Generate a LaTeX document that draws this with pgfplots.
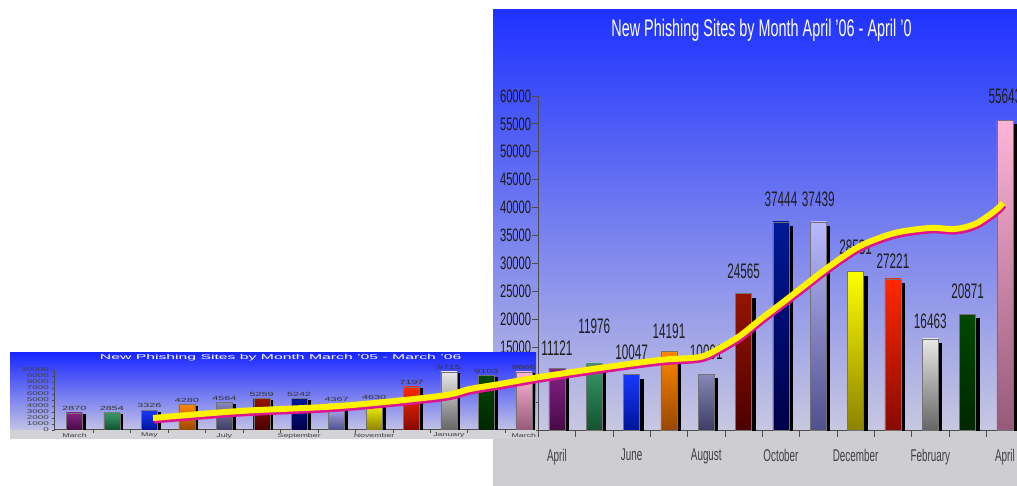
\documentclass[border=0pt]{standalone}
\usepackage{pgfplots}
\usepackage{pgfplotstable}
\pgfplotsset{compat=1.18}
\usepackage{fontspec}
\setmainfont{Liberation Sans}
\usepackage{graphicx}
\pgfkeys{/pgf/number format/.cd, assume math mode=true}

\definecolor{bgtop}{RGB}{30,50,255}
\definecolor{bgmid}{RGB}{128,134,240}
\definecolor{bgbot}{RGB}{200,200,224}
\definecolor{bgfloor}{RGB}{205,205,210}
\definecolor{sbgtop}{RGB}{26,40,255}
\definecolor{sbgmid}{RGB}{112,118,240}
\definecolor{sbgbot}{RGB}{195,195,228}
\definecolor{sbgfloor}{RGB}{210,210,215}
\definecolor{curvemag}{RGB}{222,20,145}

\definecolor{cAt}{RGB}{135,35,135}\definecolor{cAb}{RGB}{70,10,70}
\definecolor{cBt}{RGB}{55,155,105}\definecolor{cBb}{RGB}{20,80,50}
\definecolor{cCt}{RGB}{25,55,255}\definecolor{cCb}{RGB}{0,20,150}
\definecolor{cDt}{RGB}{255,135,0}\definecolor{cDb}{RGB}{150,70,0}
\definecolor{cEt}{RGB}{135,135,185}\definecolor{cEb}{RGB}{60,60,100}
\definecolor{cFt}{RGB}{150,20,0}\definecolor{cFb}{RGB}{75,0,0}
\definecolor{cGt}{RGB}{0,25,150}\definecolor{cGb}{RGB}{0,0,70}
\definecolor{cHt}{RGB}{185,185,255}\definecolor{cHb}{RGB}{80,80,140}
\definecolor{cIt}{RGB}{255,255,0}\definecolor{cIb}{RGB}{140,130,0}
\definecolor{cJt}{RGB}{255,40,0}\definecolor{cJb}{RGB}{135,10,0}
\definecolor{cKt}{RGB}{232,232,232}\definecolor{cKb}{RGB}{100,100,100}
\definecolor{cLt}{RGB}{0,72,0}\definecolor{cLb}{RGB}{0,38,0}
\definecolor{cMt}{RGB}{255,180,215}\definecolor{cMb}{RGB}{150,90,120}

% April '06 - April '07 (x = month index, v = new phishing sites, gap = label offset in pt)
\pgfplotstableread{
x v gap
0 11121 13
1 11976 30
2 10047 15
3 14191 13
4 10091 14
5 24565 15
6 37444 15
7 37439 15
8 28531 17
9 27221 10
10 16463 10
11 20871 15
12 55643 16
}\bigdata
% March '05 - March '06
\pgfplotstableread{
x v
0 2870
1 2854
2 3326
3 4280
4 4564
5 5259
6 5242
7 4367
8 4630
9 7197
10 9715
11 9103
12 9666
}\smalldata
% trend curve, in the big chart's coordinates
\pgfplotstableread{
x y
-10.82 2277
-8.49 3532
-5.81 4428
-3.13 6221
-2.33 7476
-1.53 8372
-0.46 9627
1.15 11241
2.76 12675
3.83 13213
4.37 14850
4.90 17000
5.44 19900
5.97 22600
6.51 25400
7.31 29527
8.12 33112
9.05 35443
9.99 36339
10.66 36160
11.20 37056
11.73 39387
11.95 40821
}\curvedata

% bar i of a table: index, table, top colour, bottom colour
\newcommand{\BigBar}[3]{%
  \addplot[ybar, bar width=16pt, bar shift=4pt, fill=black, draw=none, yshift=-4pt,
    restrict expr to domain={\coordindex}{#1:#1}] table[x=x,y=v] {\bigdata};
  \addplot[ybar, bar width=16pt, bar shift=0pt, draw=black!55, line width=0.5pt, top color=#2, bottom color=#3,
    restrict expr to domain={\coordindex}{#1:#1}] table[x=x,y=v] {\bigdata};
}
\newcommand{\SmallBar}[3]{%
  \addplot[ybar, bar width=16pt, bar shift=3.5pt, fill=black, draw=none, yshift=-1.5pt,
    restrict expr to domain={\coordindex}{#1:#1}] table[x=x,y=v] {\smalldata};
  \addplot[ybar, bar width=16pt, bar shift=0pt, draw=black!55, line width=0.4pt, top color=#2, bottom color=#3,
    restrict expr to domain={\coordindex}{#1:#1}] table[x=x,y=v] {\smalldata};
}
\newcommand{\bx}[1]{\scalebox{0.58}[1]{#1}}
\newcommand{\sx}[1]{\scalebox{1.6}[1]{#1}}

\pgfplotsset{
  bigaxis/.style={at={(538.3pt,55.3pt)}, anchor=south west, scale only axis,
    width=485.3pt, height=334.7pt, xmin=-0.5, xmax=12.5, ymin=0, ymax=60000},
  smallaxis/.style={at={(54.5pt,56pt)}, anchor=south west, scale only axis,
    width=480.6pt, height=60pt, xmin=-0.534, xmax=12.3, ymin=0, ymax=10000},
}

\begin{document}
\begin{tikzpicture}
\path[use as bounding box] (0pt,0pt) rectangle (1017pt,486pt);
\clip (0pt,0pt) rectangle (1017pt,486pt);
\fill[white] (0pt,0pt) rectangle (1017pt,486pt);

% big panel
\shade[top color=bgtop, middle color=bgmid, bottom color=bgbot] (493pt,55.3pt) rectangle (1017pt,476pt);
\fill[bgfloor] (493pt,0pt) rectangle (1017pt,55.3pt);
\node[anchor=base, text=white, font=\fontsize{24}{24}\selectfont, inner sep=0pt] at (761.5pt,449pt)
  {\scalebox{0.6}[1]{New Phishing Sites by Month April '06 - April '0}};

\begin{axis}[bigaxis,
  axis x line*=bottom, axis y line*=left,
  axis line style={draw=black!70, line width=0.9pt},
  tick align=outside, major tick length=6pt,
  tick style={draw=black!70, line width=0.8pt},
  xtick={-0.5,0.5,...,12.5}, xticklabels={},
  extra x ticks={0,2,...,12},
  extra x tick labels={\bx{April},\bx{June},\bx{August},\bx{October},\bx{December},\bx{February},\bx{April}},
  extra x tick style={major tick length=0pt, tick style={draw=none}},
  xticklabel style={font=\fontsize{17}{17}\selectfont, text=black!75, inner sep=0pt, yshift=-18pt},
  ytick={15000,20000,...,60000}, scaled y ticks=false,
  extra y ticks={0,5000,10000}, extra y tick labels={},
  yticklabel={\scalebox{0.62}[1]{\pgfmathprintnumber[fixed,precision=0,1000 sep={}]{\tick}}},
  yticklabel style={font=\fontsize{18}{18}\selectfont, text=black!90, inner sep=0pt, xshift=-1pt},
]
\BigBar{0}{cAt}{cAb}
\BigBar{1}{cBt}{cBb}
\BigBar{2}{cCt}{cCb}
\BigBar{3}{cDt}{cDb}
\BigBar{4}{cEt}{cEb}
\BigBar{5}{cFt}{cFb}
\BigBar{6}{cGt}{cGb}
\BigBar{7}{cHt}{cHb}
\BigBar{8}{cIt}{cIb}
\BigBar{9}{cJt}{cJb}
\BigBar{10}{cKt}{cKb}
\BigBar{11}{cLt}{cLb}
\BigBar{12}{cMt}{cMb}
\end{axis}
% value labels of the big chart
\begin{axis}[bigaxis, hide axis, clip=false]
\addplot[draw=none,
  visualization depends on={\thisrow{gap}\as\labgap},
  nodes near coords={\scalebox{0.56}[1]{\pgfmathprintnumber[fixed,precision=0,1000 sep={}]{\pgfplotspointmeta}}},
  every node near coord/.append style={font=\fontsize{21}{21}\selectfont, text=black!88, inner sep=0pt, anchor=south, yshift=\labgap pt}]
  table[x=x,y=v] {\bigdata};
\end{axis}

% small panel
\shade[top color=sbgtop, middle color=sbgmid, bottom color=sbgbot] (10pt,56pt) rectangle (536pt,133pt);
\fill[sbgfloor] (10pt,47pt) rectangle (536pt,56pt);
\node[anchor=base west, text=white, font=\fontsize{7}{7}\selectfont, inner sep=0pt] at (99.7pt,126pt)
  {\scalebox{2.25}[1]{New Phishing Sites by Month March '05 - March '06}};

\begin{axis}[smallaxis,
  axis x line*=bottom, axis y line*=left,
  axis line style={draw=black!70, line width=1pt},
  tick align=outside, major tick length=3pt,
  tick style={draw=black!70, line width=0.6pt},
  xtick={0.5,1.5,...,11.5}, xticklabels={},
  extra x ticks={0,2,...,12},
  extra x tick labels={\sx{March},\sx{May},\sx{July},\sx{September},\sx{November},\sx{January},\sx{March}},
  extra x tick style={major tick length=0pt, tick style={draw=none}},
  xticklabel style={font=\fontsize{5.5}{5.5}\selectfont, text=black!75, inner sep=0pt, yshift=-3pt},
  ytick={0,1000,...,10000}, scaled y ticks=false,
  yticklabel={\scalebox{1.8}[1]{\pgfmathprintnumber[fixed,precision=0,1000 sep={}]{\tick}}},
  yticklabel style={font=\fontsize{5.5}{5.5}\selectfont, text=black!75, inner sep=0pt, xshift=-2.5pt},
]
\SmallBar{0}{cAt}{cAb}
\SmallBar{1}{cBt}{cBb}
\SmallBar{2}{cCt}{cCb}
\SmallBar{3}{cDt}{cDb}
\SmallBar{4}{cEt}{cEb}
\SmallBar{5}{cFt}{cFb}
\SmallBar{6}{cGt}{cGb}
\SmallBar{7}{cHt}{cHb}
\SmallBar{8}{cIt}{cIb}
\SmallBar{9}{cJt}{cJb}
\SmallBar{10}{cKt}{cKb}
\SmallBar{11}{cLt}{cLb}
\SmallBar{12}{cMt}{cMb}
\end{axis}
\begin{axis}[smallaxis, hide axis, clip=false]
\addplot[draw=none,
  nodes near coords={\scalebox{1.8}[1]{\pgfmathprintnumber[fixed,precision=0,1000 sep={}]{\pgfplotspointmeta}}},
  every node near coord/.append style={font=\fontsize{6}{6}\selectfont, text=black!80, inner sep=0pt, anchor=south, yshift=2pt}]
  table[x=x,y=v] {\smalldata};
\end{axis}

% trend curve
\begin{axis}[bigaxis, hide axis, clip=false]
\addplot[smooth, line width=6pt, color=curvemag, xshift=0.8pt, yshift=-2.5pt] table[x=x,y=y] {\curvedata};
\addplot[smooth, line width=6pt, color=yellow] table[x=x,y=y] {\curvedata};
\end{axis}
\end{tikzpicture}
\end{document}
